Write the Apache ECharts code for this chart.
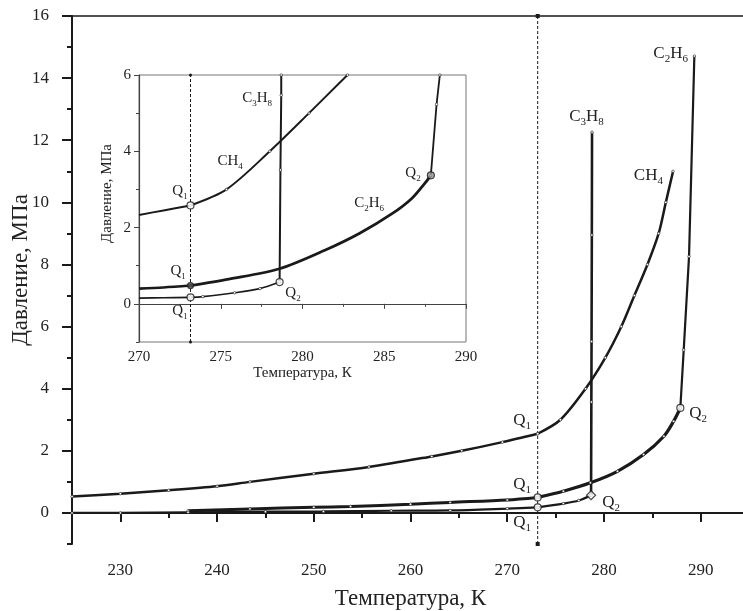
<!DOCTYPE html>
<html>
<head>
<meta charset="utf-8">
<script src="https://cdn.jsdelivr.net/npm/echarts@6/dist/echarts.min.js"></script>
<style>
  html, body { margin: 0; padding: 0; background: #fff; }
  #chart { width: 743px; height: 611px; }
</style>
</head>
<body>
<div id="chart"></div>
<script>
// --- main diagram (T, K / P, MPa) ---
var ch4LoT = [225, 230, 235, 240, 243.4, 250, 255.7, 262.2, 265.3, 269.5, 273.15];
var ch4LoP = [0.53, 0.62, 0.73, 0.86, 1.0, 1.26, 1.48, 1.82, 2.0, 2.28, 2.55];
var ch4HiT = [273.15, 275.5, 278.1, 280.15, 281.8, 283.15, 284.5, 285.66, 286.4, 287.15];
var ch4HiP = [2.55, 3.0, 4.0, 5.0, 6.0, 7.0, 8.0, 9.0, 10.0, 11.0];

var c2h6LoT = [237, 243.4, 250, 253.8, 260, 264.1, 270, 273.15];
var c2h6LoP = [0.07, 0.13, 0.18, 0.21, 0.28, 0.34, 0.42, 0.50];
var c2h6MidT = [273.15, 275.8, 278.6, 281.4, 284.1, 286.2, 287.2, 287.9];
var c2h6MidP = [0.50, 0.70, 0.97, 1.34, 1.88, 2.47, 2.95, 3.38];
var c2h6UpT = [287.9, 288.25, 288.8, 289.35];
var c2h6UpP = [3.38, 5.25, 8.26, 14.71];

var c3h8LoT = [225, 230, 237, 245, 251, 258, 264.1, 270, 273.15];
var c3h8LoP = [0.0, 0.0, 0.02, 0.04, 0.05, 0.07, 0.08, 0.14, 0.18];
var c3h8MidT = [273.15, 275.8, 277.4, 278.67];
var c3h8MidP = [0.18, 0.30, 0.40, 0.57];
var c3h8UpT = [278.67, 278.7, 278.72, 278.75, 278.77];
var c3h8UpP = [0.57, 3.57, 5.52, 8.95, 12.26];

var mainQT = [273.15, 273.15, 278.67, 287.9];
var mainQP = [0.50, 0.18, 0.57, 3.38];

// --- inset (270-290 K) ---
var inCh4LoT = [270, 271.5, 273.15];
var inCh4LoP = [2.33, 2.45, 2.58];
var inCh4HiT = [273.15, 275.35, 278, 280.4, 282.75];
var inCh4HiP = [2.58, 3.0, 4.0, 5.0, 6.0];

var inC2h6LoT = [270, 271.5, 273.15];
var inC2h6LoP = [0.40, 0.43, 0.48];
var inC2h6MidT = [273.15, 275.5, 278.6, 281.4, 283.5, 285.5, 286.7, 287.5, 287.85];
var inC2h6MidP = [0.48, 0.65, 0.92, 1.41, 1.85, 2.37, 2.77, 3.17, 3.37];
var inC2h6UpT = [287.85, 288.2, 288.4];
var inC2h6UpP = [3.37, 5.23, 6.0];

var inC3h8LoT = [270, 271.5, 273.15];
var inC3h8LoP = [0.15, 0.16, 0.17];
var inC3h8MidT = [273.15, 273.9, 275.85, 277.4, 278.6];
var inC3h8MidP = [0.17, 0.19, 0.29, 0.40, 0.57];
var inC3h8UpT = [278.6, 278.65, 278.7, 278.7];
var inC3h8UpP = [0.57, 3.51, 5.47, 6.0];

var inQT = [273.15, 273.15, 273.15, 278.6, 287.85];
var inQP = [2.58, 0.48, 0.17, 0.57, 3.37];

var q1T = 273.15;

var mainMajorX = [225, 230, 240, 250, 260, 270, 280, 290];
var mainLabelX = [230, 240, 250, 260, 270, 280, 290];
var mainMinorX = [235, 245, 255, 265, 275, 285, 295];
var mainMajorY = [0, 2, 4, 6, 8, 10, 12, 14, 16];
var mainMinorY = [-1, 1, 3, 5, 7, 9, 11, 13, 15];
var inMajorY = [0, 2, 4, 6];
var inMinorY = [-1, 1, 3, 5];

var FONT = "'Liberation Serif', 'DejaVu Serif', serif";
var INK = '#1a1a1a';

function pts(t, p) {
  return t.map(function (v, i) { return [v, p[i]]; });
}

function curve(t, p, inset, width, smooth, dots) {
  return {
    type: 'line',
    xAxisIndex: inset ? 3 : 0,
    yAxisIndex: inset ? 2 : 0,
    data: pts(t, p),
    smooth: smooth ? 0.3 : false,
    showSymbol: !!dots,
    symbol: 'circle',
    symbolSize: 2.5,
    itemStyle: { color: '#fff', borderColor: INK, borderWidth: 0.6 },
    lineStyle: { color: INK, width: width },
    silent: true,
    z: 3
  };
}

function qSeries(t, p, inset) {
  return {
    type: 'scatter',
    xAxisIndex: inset ? 3 : 0,
    yAxisIndex: inset ? 2 : 0,
    silent: true,
    z: 5,
    data: t.map(function (v, i) {
      var item = { value: [v, p[i]], symbol: 'circle', symbolSize: 7,
        itemStyle: { color: '#fff', borderColor: INK, borderWidth: 1.2 } };
      if (!inset && i === 2) { item.symbol = 'diamond'; item.symbolSize = 9; }
      if (inset && i === 1) { item.symbolSize = 6; item.itemStyle.color = '#555'; }
      if (inset && i === 4) { item.itemStyle.color = '#999'; }
      return item;
    })
  };
}

function dashLine(top, inset) {
  return {
    type: 'line',
    xAxisIndex: inset ? 3 : 0,
    yAxisIndex: inset ? 2 : 0,
    data: [[q1T, -1], [q1T, top]],
    showSymbol: true,
    symbol: inset ? 'circle' : 'rect',
    symbolSize: inset ? 3 : 4,
    itemStyle: { color: INK },
    lineStyle: { color: INK, width: 1, type: [3, 2] },
    silent: true,
    z: 2
  };
}

var tickFont = { fontFamily: FONT, color: '#222' };

var chart = echarts.init(document.getElementById('chart'), null, { renderer: 'canvas' });

chart.setOption({
  animation: false,
  backgroundColor: '#fff',
  grid: [
    { left: 72, top: 16, bottom: 67, right: -6, show: false, outerBoundsMode: 'none' },
    { left: 139, top: 75, width: 327, height: 267, show: true, outerBoundsMode: 'none',
      backgroundColor: '#fff', borderColor: '#777', borderWidth: 1 }
  ],
  xAxis: [
    { type: 'value', gridIndex: 0, min: 225, max: 295, position: 'bottom',
      axisLine: { lineStyle: { color: INK, width: 2 } },
      axisTick: { customValues: mainMajorX, length: 9, lineStyle: { color: INK, width: 2 } },
      axisLabel: Object.assign({ customValues: mainLabelX, margin: 18, fontSize: 17 }, tickFont),
      splitLine: { show: false },
      name: 'Температура, К', nameLocation: 'middle', nameGap: 43, nameMoveOverlap: false,
      nameTextStyle: { fontFamily: FONT, fontSize: 23, color: '#222' } },
    { type: 'value', gridIndex: 0, min: 225, max: 295, position: 'bottom', offset: 0,
      axisLine: { show: false },
      axisTick: { customValues: mainMinorX, length: 5, lineStyle: { color: INK, width: 2 } },
      axisLabel: { show: false }, splitLine: { show: false } },
    { type: 'value', gridIndex: 0, min: 225, max: 295, position: 'top',
      axisLine: { lineStyle: { color: INK, width: 1.5 } },
      axisTick: { show: false }, axisLabel: { show: false }, splitLine: { show: false } },
    { type: 'value', gridIndex: 1, min: 270, max: 290, interval: 5, position: 'bottom',
      axisLine: { lineStyle: { color: '#444', width: 1.2 } },
      axisTick: { length: 5, lineStyle: { color: '#444' } },
      minorTick: { show: true, splitNumber: 2, length: 3, lineStyle: { color: '#444' } },
      axisLabel: Object.assign({ margin: 8, fontSize: 15 }, tickFont),
      splitLine: { show: false }, minorSplitLine: { show: false },
      name: 'Температура, К', nameLocation: 'middle', nameGap: 24, nameMoveOverlap: false,
      nameTextStyle: { fontFamily: FONT, fontSize: 15, color: '#222' } }
  ],
  yAxis: [
    { type: 'value', gridIndex: 0, min: -1, max: 16, position: 'left',
      axisLine: { lineStyle: { color: INK, width: 2 } },
      axisTick: { customValues: mainMajorY, length: 10, lineStyle: { color: INK, width: 2 } },
      axisLabel: Object.assign({ customValues: mainMajorY, margin: 23, fontSize: 17 }, tickFont),
      splitLine: { show: false },
      name: 'Давление, МПа', nameLocation: 'middle', nameGap: 40, nameMoveOverlap: false,
      nameTextStyle: { fontFamily: FONT, fontSize: 23, color: '#222', padding: [0, 0, 0, 20] } },
    { type: 'value', gridIndex: 0, min: -1, max: 16, position: 'left', offset: 0,
      axisLine: { show: false },
      axisTick: { customValues: mainMinorY, length: 5, lineStyle: { color: INK, width: 2 } },
      axisLabel: { show: false }, splitLine: { show: false } },
    { type: 'value', gridIndex: 1, min: -1, max: 6, position: 'left',
      axisLine: { lineStyle: { color: '#444', width: 1.2 } },
      axisTick: { customValues: inMajorY, length: 5, lineStyle: { color: '#444' } },
      axisLabel: Object.assign({ customValues: inMajorY, margin: 8, fontSize: 15 }, tickFont),
      splitLine: { show: false },
      name: 'Давление, МПа', nameLocation: 'middle', nameGap: 24, nameMoveOverlap: false,
      nameTextStyle: { fontFamily: FONT, fontSize: 15, color: '#222', padding: [0, 0, 0, 30] } },
    { type: 'value', gridIndex: 1, min: -1, max: 6, position: 'left', offset: 0,
      axisLine: { show: false },
      axisTick: { customValues: inMinorY, length: 3, lineStyle: { color: '#444' } },
      axisLabel: { show: false }, splitLine: { show: false } }
  ],
  series: [
    curve(ch4LoT, ch4LoP, false, 2.5, true, true),
    curve(ch4HiT, ch4HiP, false, 2.5, true, true),
    curve(c2h6LoT, c2h6LoP, false, 3, true, true),
    curve(c2h6MidT, c2h6MidP, false, 3.2, true, true),
    curve(c2h6UpT, c2h6UpP, false, 2.2, false, true),
    curve(c3h8LoT, c3h8LoP, false, 2.2, true, true),
    curve(c3h8MidT, c3h8MidP, false, 2.2, true, true),
    curve(c3h8UpT, c3h8UpP, false, 2.6, false, true),
    dashLine(16, false),
    qSeries(mainQT, mainQP, false),

    curve(inCh4LoT, inCh4LoP, true, 2, true, false),
    curve(inCh4HiT, inCh4HiP, true, 2, true, true),
    curve(inC2h6LoT, inC2h6LoP, true, 2.6, true, false),
    curve(inC2h6MidT, inC2h6MidP, true, 2.8, true, false),
    curve(inC2h6UpT, inC2h6UpP, true, 1.8, false, true),
    curve(inC3h8LoT, inC3h8LoP, true, 1.6, true, false),
    curve(inC3h8MidT, inC3h8MidP, true, 1.6, true, true),
    curve(inC3h8UpT, inC3h8UpP, true, 2, false, true),
    dashLine(6, true),
    qSeries(inQT, inQP, true)
  ]
});

// text notes, anchored in data coordinates of each panel
var notes = [
  [0, 'C{s|2}H{s|6}', 286.9, 14.8], [0, 'C{s|3}H{s|8}', 278.2, 12.75], [0, 'CH{s|4}', 284.6, 10.85],
  [0, 'Q{s|1}', 271.55, 2.97], [0, 'Q{s|1}', 271.55, 0.91], [0, 'Q{s|1}', 271.55, -0.31],
  [0, 'Q{s|2}', 280.75, 0.33], [0, 'Q{s|2}', 289.75, 3.19],
  [1, 'C{s|3}H{s|8}', 277.22, 5.39], [1, 'CH{s|4}', 275.57, 3.75], [1, 'Q{s|1}', 272.5, 2.96],
  [1, 'C{s|2}H{s|6}', 284.07, 2.65], [1, 'Q{s|2}', 286.76, 3.44], [1, 'Q{s|1}', 272.39, 0.85],
  [1, 'Q{s|1}', 272.5, -0.2], [1, 'Q{s|2}', 279.42, 0.27]
];

chart.setOption({
  graphic: notes.map(function (n) {
    var finder = n[0] === 0 ? { seriesIndex: 0 } : { seriesIndex: 10 };
    var p = chart.convertToPixel(finder, [n[2], n[3]]);
    var fs = n[0] === 0 ? 17 : 15;
    return {
      type: 'text', x: p[0], y: p[1], z: 20, silent: true,
      style: {
        text: n[1], fill: '#222', fontFamily: FONT, fontSize: fs, lineHeight: fs + 5,
        align: 'center', verticalAlign: 'middle',
        rich: { s: { fontFamily: FONT, fontSize: Math.round(fs * 0.62), lineHeight: Math.round(fs * 0.62),
          verticalAlign: 'bottom', fill: '#222' } }
      }
    };
  })
});
</script>
</body>
</html>
